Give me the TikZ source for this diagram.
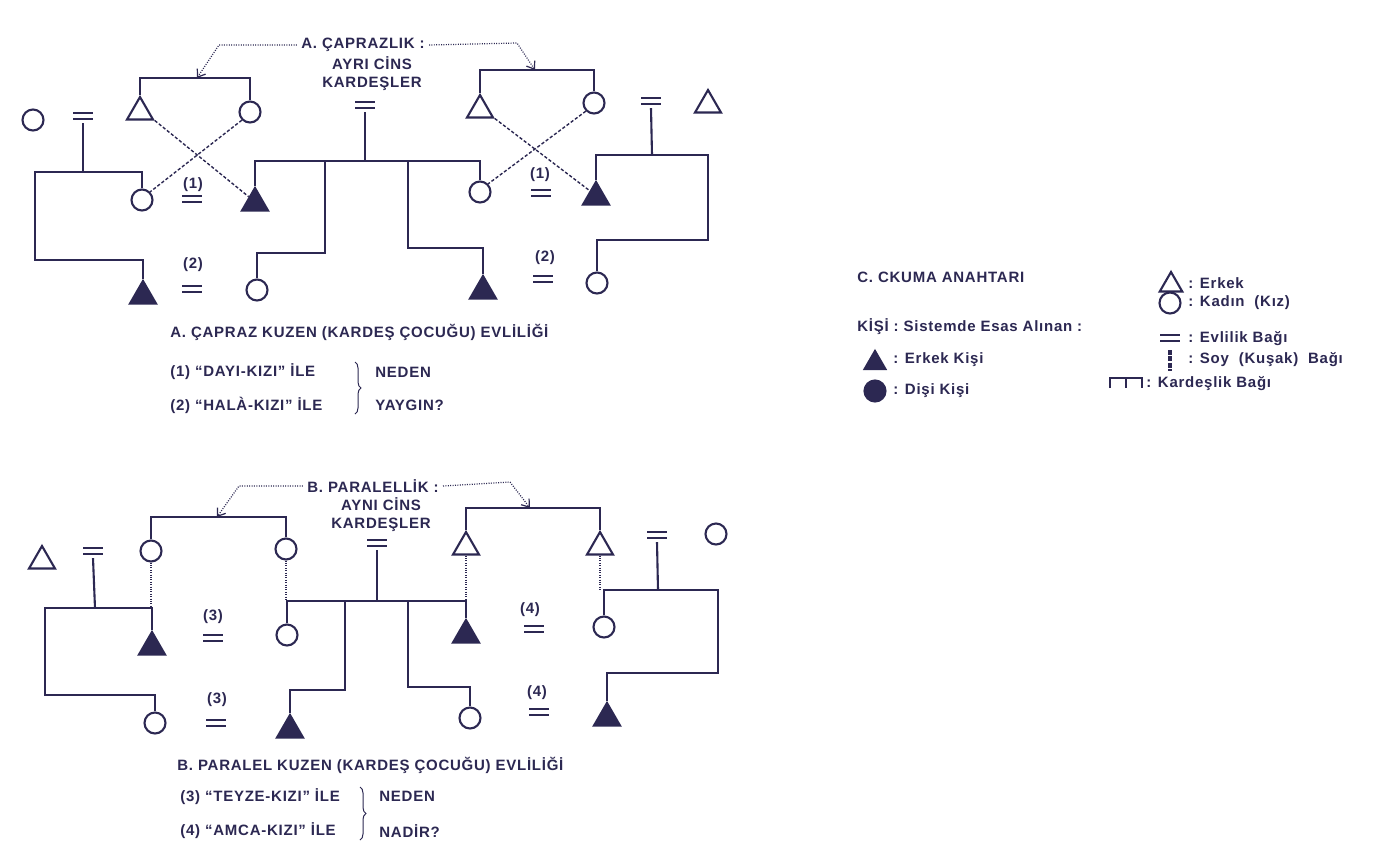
\documentclass[tikz,border=0pt]{standalone}
\usepackage{fontspec}
\setmainfont{Liberation Sans}[LetterSpace=5]
\usetikzlibrary{shapes.geometric,arrows.meta,decorations.pathreplacing}
\definecolor{ink}{RGB}{44,40,82}
\tikzset{
  txt/.style={font=\fontsize{7.5}{9}\selectfont\bfseries, text=ink, inner sep=0pt},
  man/.style={regular polygon, regular polygon sides=3, draw=ink, line width=1.05pt, minimum size=15pt, inner sep=0pt},
  woman/.style={circle, draw=ink, line width=1.05pt, minimum size=10.5pt, inner sep=0pt},
  ego/.style={man, fill=ink},
  marr/.style={minimum width=10pt, minimum height=3.8pt, inner sep=0pt,
    path picture={\draw[ink, line width=2pt] (path picture bounding box.north west) -- (path picture bounding box.north east)
      (path picture bounding box.south west) -- (path picture bounding box.south east);}},
  kin/.style={draw=ink, line width=1.05pt},
  xline/.style={draw=ink, line width=0.7pt, dash pattern=on 1.6pt off 1pt},
  dotline/.style={draw=ink, line width=0.6pt, dash pattern=on 0.5pt off 0.7pt},
  arr/.style={-{Straight Barb[length=3.5pt, width=5pt, line width=0.6pt]}},
  brc/.style={draw=ink, line width=0.5pt, decorate, decoration={brace, amplitude=3pt}},
  soy/.style={draw=ink, line width=1.8pt, dash pattern=on 2.5pt off 0.7pt}
}
\begin{document}
\begin{tikzpicture}[x=0.5pt, y=-0.5pt]
\fill[white] (0,0) rectangle (1386,864);
\useasboundingbox (0,0) rectangle (1386,864);
% A. capraz
\node[txt] (titA) at (363,45) {A. ÇAPRAZLIK :};
\node[txt, align=center] (sibA) at (372,74) {AYRI CİNS\\KARDEŞLER};
\node[woman] (a0) at (33,120) {};
\node[marr] (ma1) at (83,116) {};
\node[man] (a1) at (140,112) {};
\node[woman] (a2) at (250,112) {};
\node[woman] (a3) at (142,200) {};
\node[ego] (a4) at (255,203) {};
\node[ego] (a5) at (143,296) {};
\node[woman] (a6) at (257,290) {};
\node[marr] (ma2) at (365,105) {};
\node[woman] (a7) at (480,192) {};
\node[ego] (a8) at (483,291) {};
\node[man] (a9) at (480,110) {};
\node[woman] (a10) at (594,103) {};
\node[marr] (ma3) at (651,101) {};
\node[man] (a11) at (708,105) {};
\node[ego] (a12) at (596,197) {};
\node[woman] (a13) at (597,283) {};
\node[txt] (n1a) at (193,185) {(1)};
\node[marr] (e1a) at (192,199) {};
\node[txt] (n2a) at (193,265) {(2)};
\node[marr] (e2a) at (192,289) {};
\node[txt] (n1b) at (540,175) {(1)};
\node[marr] (e1b) at (541,193) {};
\node[txt] (n2b) at (545,258) {(2)};
\node[marr] (e2b) at (543,279) {};
\coordinate (pA1) at (197,78);
\coordinate (pA2) at (535,70);
\coordinate (jA1) at (83,172);
\coordinate (jA2) at (365,161);
\coordinate (jA3) at (652,155);
\coordinate (kA1) at (325,161);
\coordinate (kA2) at (408,161);
\draw[kin] (a1.north) |- (pA1) -| (a2.north);
\draw[kin] (a9.north) |- (pA2) -| (a10.north);
\draw[kin] ([yshift=-1.5pt]ma1.south) -- (jA1);
\draw[kin] (a3.north) |- (jA1) -| (35,260) -| (a5.north);
\draw[kin] ([yshift=-1.5pt]ma2.south) -- (jA2);
\draw[kin] (a4.north) |- (jA2) -| (a7.north);
\draw[kin] (kA1) -- ++(0,92) -| (a6.north);
\draw[kin] (kA2) -- ++(0,87) -| (a8.north);
\draw[kin] ([yshift=-1.5pt]ma3.south) -- (jA3);
\draw[kin] (a12.north) |- (jA3) -| (708,240) -| (a13.north);
\draw[xline] (a1.corner 3) -- (a4.north west);
\draw[xline] (a2.south west) -- (a3.north east);
\draw[xline] (a9.corner 3) -- (a12.north west);
\draw[xline] (a10.south west) -- (a7.north east);
\draw[dotline, arr] ([xshift=-2pt]titA.west) -- ++(-78,0) -- (pA1);
\draw[dotline, arr] ([xshift=2pt]titA.east) -- ++(88,-2) -- (pA2);
\node[txt, anchor=west] (capA) at (170,332) {A. ÇAPRAZ KUZEN (KARDEŞ ÇOCUĞU) EVLİLİĞİ};
\node[txt, anchor=west] (qa1) at (170,372) {(1) “DAYI-KIZI” İLE};
\node[txt, anchor=west] (qa2) at (170,405) {(2) “HALÀ-KIZI” İLE};
\draw[brc] (355,362) -- (355,414);
\node[txt, anchor=west] (wa1) at (375,372) {NEDEN};
\node[txt, anchor=west] (wa2) at (375,405) {YAYGIN?};
% B. paralel
\node[txt] (titB) at (373,486) {B. PARALELLİK :};
\node[txt, align=center] (sibB) at (381,515) {AYNI CİNS\\KARDEŞLER};
\node[marr] (mb2) at (377,543) {};
\node[man] (b0) at (42,561) {};
\node[marr] (mb1) at (93,551) {};
\node[woman] (b1) at (151,551) {};
\node[woman] (b2) at (286,549) {};
\node[ego] (b3) at (152,647) {};
\node[woman] (b4) at (155,723) {};
\node[woman] (b5) at (287,635) {};
\node[ego] (b6) at (290,730) {};
\node[woman] (b7) at (470,718) {};
\node[ego] (b8) at (466,635) {};
\node[man] (b9) at (466,547) {};
\node[man] (b10) at (600,547) {};
\node[marr] (mb3) at (657,535) {};
\node[woman] (b11) at (716,534) {};
\node[woman] (b12) at (604,627) {};
\node[ego] (b13) at (607,718) {};
\node[txt] (n3a) at (213,617) {(3)};
\node[marr] (e3a) at (213,638) {};
\node[txt] (n3b) at (217,700) {(3)};
\node[marr] (e3b) at (216,723) {};
\node[txt] (n4a) at (530,610) {(4)};
\node[marr] (e4a) at (534,629) {};
\node[txt] (n4b) at (537,693) {(4)};
\node[marr] (e4b) at (539,712) {};
\coordinate (pB1) at (217,517);
\coordinate (pB2) at (530,508);
\coordinate (jB1) at (95,608);
\coordinate (jB2) at (377,601);
\coordinate (jB3) at (658,590);
\coordinate (kB1) at (345,601);
\coordinate (kB2) at (408,601);
\draw[kin] (b1.north) |- (pB1) -| (b2.north);
\draw[kin] (b9.north) |- (pB2) -| (b10.north);
\draw[kin] ([yshift=-1.5pt]mb1.south) -- (jB1);
\draw[kin] (b3.north) |- (jB1) -| (45,695) -| (b4.north);
\draw[kin] ([yshift=-1.5pt]mb2.south) -- (jB2);
\draw[kin] (b5.north) |- (jB2) -| (b8.north);
\draw[kin] (kB1) -- ++(0,89) -| (b6.north);
\draw[kin] (kB2) -- ++(0,86) -| (b7.north);
\draw[kin] ([yshift=-1.5pt]mb3.south) -- (jB3);
\draw[kin] (b12.north) |- (jB3) -| (718,673) -| (b13.north);
\draw[dotline] (b1.south) -- (b1.south |- jB1);
\draw[dotline] (b2.south) -- (b2.south |- jB2);
\draw[dotline] (b9.south) -- (b9.south |- jB2);
\draw[dotline] (b10.south) -- (b10.south |- jB3);
\draw[dotline, arr] ([xshift=-2pt]titB.west) -- ++(-64,0) -- (pB1);
\draw[dotline, arr] ([xshift=2pt]titB.east) -- ++(67,-4) -- (pB2);
\node[txt, anchor=west] (capB) at (177,765) {B. PARALEL KUZEN (KARDEŞ ÇOCUĞU) EVLİLİĞİ};
\node[txt, anchor=west] (qb1) at (180,797) {(3) “TEYZE-KIZI” İLE};
\node[txt, anchor=west] (qb2) at (180,831) {(4) “AMCA-KIZI” İLE};
\draw[brc] (360,787) -- (360,840);
\node[txt, anchor=west] (wb1) at (379,796) {NEDEN};
\node[txt, anchor=west] (wb2) at (379,831) {NADİR?};
% C. anahtar
\node[txt, anchor=west] (keyC) at (857,277) {C. CKUMA ANAHTARI};
\node[txt, anchor=west] (keyK) at (857,327) {KİŞİ : Sistemde Esas Alınan :};
\node[ego, minimum size=12pt] (kE) at (875,363) {};
\node[txt, anchor=west] (kEt) at (893,360) {: Erkek Kişi};
\node[woman, fill=ink] (kD) at (875,391) {};
\node[txt, anchor=west] (kDt) at (893,391) {: Dişi Kişi};
\node[man, minimum size=13pt] (kM) at (1171,285) {};
\node[txt, anchor=west] (kMt) at (1188,283) {: Erkek};
\node[woman] (kW) at (1170,303) {};
\node[txt, anchor=west] (kWt) at (1188,303) {: Kadın \ (Kız)};
\node[marr] (kX) at (1170,338) {};
\node[txt, anchor=west] (kXt) at (1188,339) {: Evlilik Bağı};
\coordinate (kS1) at (1170,350);
\coordinate (kS2) at (1170,371);
\draw[soy] (kS1) -- (kS2);
\node[txt, anchor=west] (kSt) at (1188,360) {: Soy \ (Kuşak) \ Bağı};
\coordinate (kK1) at (1110,388);
\coordinate (kK2) at (1142,388);
\coordinate (kK3) at (1126,378);
\draw[kin] (kK1) |- (kK3) -| (kK2);
\draw[kin] (kK3) -- ++(0,10);
\node[txt, anchor=west] (kKt) at (1146,384) {: Kardeşlik Bağı};
\end{tikzpicture}
\end{document}
